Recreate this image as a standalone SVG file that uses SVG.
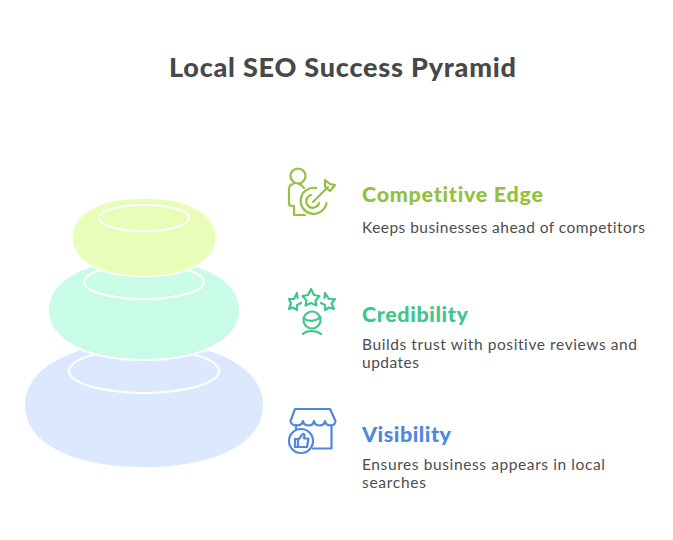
<svg xmlns="http://www.w3.org/2000/svg" width="673" height="540" viewBox="0 0 673 540">
<style>
.t{font-family:"Lato","Open Sans",sans-serif;font-weight:900;font-variant-ligatures:none}
.h{font-size:21.5px}
.d{font-family:"Lato","Open Sans",sans-serif;font-size:15.500px;fill:#4d4d4d;font-variant-ligatures:none}
.i{fill:none;stroke-width:2.200;stroke-linecap:round;stroke-linejoin:round}
.r{fill:none;stroke:#fff;stroke-width:2}
</style>
<rect width="673" height="540" fill="#fff"/>
<text id="title" class="t" x="169" y="77" font-size="27" fill="#484848" textLength="347" lengthAdjust="spacing">Local SEO Success Pyramid</text>
<g id="pyramid">
<g id="layer-bottom">
<path d="M144 342C215 342 263 368 263 405C263 445 212 467 144 467C76 467 25 445 25 405C25 368 73 342 144 342Z" fill="#dce8fe"/>
<ellipse class="r" cx="144" cy="371" rx="75" ry="22"/>
</g>
<g id="layer-middle">
<path d="M144 259C200 259 240 279 240 310C240 341 200 360 144 360C88 360 48 341 48 310C48 279 88 259 144 259Z" fill="#c8fce6" stroke="#fff" stroke-width="2"/>
<ellipse class="r" cx="144" cy="282" rx="60" ry="17"/>
</g>
<g id="layer-top">
<path d="M144 198C190 198 216 214 216 238C216 262 187 276.500 144 276.500C101 276.500 72 262 72 238C72 214 98 198 144 198Z" fill="#e8fdb8" stroke="#fff" stroke-width="1.500"/>
<ellipse class="r" cx="144" cy="218" rx="45" ry="13"/>
</g>
</g>
<g id="node-competitive">
<g class="i" stroke="#94c13d">
<circle cx="298" cy="176" r="7.500"/>
<path d="M293 184C288 185 289 190 289 197V204C289 206 291 206 294 206V215H305"/>
<path d="M299 184C301 185 303 186 304 188"/>
<path d="M326.500 203A13 13 0 1 1 316 188"/>
<path d="M319 203A6.500 6.500 0 1 1 311 195"/>
<path d="M313 202L328 187"/>
<path d="M325 187L325 180L330 184L335 185L330 191Z"/>
</g>
<text class="t h" x="362" y="201.500" fill="#94c13d" textLength="181">Competitive Edge</text>
<text class="d" x="362" y="233" textLength="283">Keeps businesses ahead of competitors</text>
</g>
<g id="node-credibility">
<g class="i" stroke="#3ec78b">
<path d="M311 289L314 295L319.500 296L315.500 300.500L316.500 305.500L311 303L305.500 305.500L306.500 300.500L302.500 296L308 295Z"/>
<path d="M297 293L297.500 298M301 303L297 305L297 310L293 307.500L289 309L291 303.500L289 299L294 299L297 293"/>
<path d="M325 293L324.500 298M321 303L325 305L325 310L329 307.500L334 309L331.500 303.500L335 299L329 299L325 293"/>
<circle cx="312" cy="320" r="8.500"/>
<path d="M303.500 318C308 322 315 322 320.500 317"/>
<path d="M303 334C307 330 316 330 321 334"/>
</g>
<text class="t h" x="362" y="321.500" fill="#3ec78b" textLength="106">Credibility</text>
<text class="d" x="362" y="350" textLength="275">Builds trust with positive reviews and</text>
<text class="d" x="362" y="368" textLength="57">updates</text>
</g>
<g id="node-visibility">
<g class="i" stroke="#4f86de">
<path d="M295 409H330L335.500 421C335 427 326 427 325 421C324 427 315 427 314 421C313 427 304 427 303 421C302 427 291 427 290.500 421Z"/>
<path d="M331.500 425V448.500H313"/>
<path d="M296 425V429"/>
<circle cx="301" cy="441" r="12"/>
<path d="M295 439H298V447H295ZM298 440L302 435C303 433 305 434 304.500 436L304 438.500H308.500L307 447H298"/>
</g>
<text class="t h" x="362" y="441.500" fill="#4f86de" textLength="89">Visibility</text>
<text class="d" x="362" y="470" textLength="243">Ensures business appears in local</text>
<text class="d" x="362" y="488" textLength="64">searches</text>
</g>
</svg>
